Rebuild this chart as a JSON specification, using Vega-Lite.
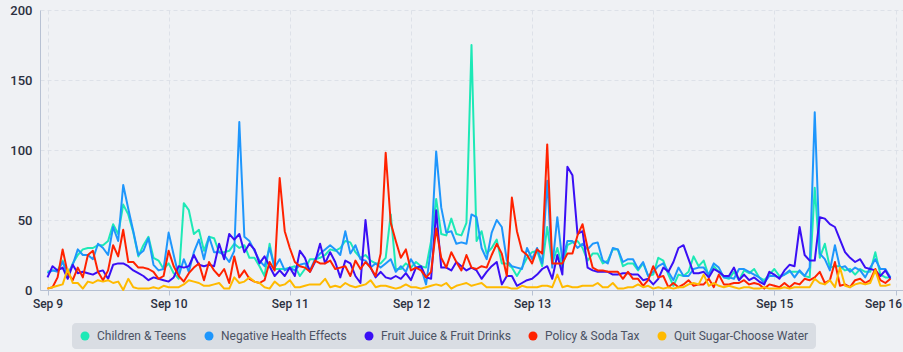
{
"$schema": "https://vega.github.io/schema/vega-lite/v6.json",
"width": 863, "height": 280,
"autosize": {"type": "none"},
"padding": {"left": 40, "top": 10, "right": 0, "bottom": 62},
"background": "#eff1f4",
"config": {"view": {"stroke": null}, "font": "Roboto"},
"datasets": {
"names": [
{"k": "C", "name": "Children & Teens"},
{"k": "N", "name": "Negative Health Effects"},
{"k": "F", "name": "Fruit Juice & Fruit Drinks"},
{"k": "P", "name": "Policy & Soda Tax"},
{"k": "Q", "name": "Quit Sugar-Choose Water"}
],
"hourly": [
{"t":"2015-09-09T00:00","C":13,"N":12,"F":9,"P":1,"Q":1},
{"t":"2015-09-09T01:00","C":14,"N":14,"F":17,"P":2,"Q":2},
{"t":"2015-09-09T02:00","C":14,"N":13,"F":14,"P":9,"Q":3},
{"t":"2015-09-09T03:00","C":21,"N":20,"F":16,"P":29,"Q":4},
{"t":"2015-09-09T04:00","C":10,"N":11,"F":8,"P":12,"Q":15},
{"t":"2015-09-09T05:00","C":19,"N":18,"F":18,"P":7,"Q":5},
{"t":"2015-09-09T06:00","C":25,"N":29,"F":12,"P":16,"Q":5},
{"t":"2015-09-09T07:00","C":29,"N":25,"F":13,"P":9,"Q":1},
{"t":"2015-09-09T08:00","C":30,"N":25,"F":12,"P":25,"Q":6},
{"t":"2015-09-09T09:00","C":30,"N":22,"F":11,"P":28,"Q":5},
{"t":"2015-09-09T10:00","C":32,"N":33,"F":13,"P":13,"Q":7},
{"t":"2015-09-09T11:00","C":32,"N":30,"F":14,"P":7,"Q":6},
{"t":"2015-09-09T12:00","C":35,"N":25,"F":8,"P":14,"Q":7},
{"t":"2015-09-09T13:00","C":47,"N":45,"F":18,"P":32,"Q":5},
{"t":"2015-09-09T14:00","C":40,"N":35,"F":19,"P":24,"Q":6},
{"t":"2015-09-09T15:00","C":61,"N":75,"F":19,"P":43,"Q":0},
{"t":"2015-09-09T16:00","C":54,"N":58,"F":17,"P":20,"Q":8},
{"t":"2015-09-09T17:00","C":41,"N":42,"F":14,"P":20,"Q":2},
{"t":"2015-09-09T18:00","C":24,"N":25,"F":12,"P":16,"Q":1},
{"t":"2015-09-09T19:00","C":32,"N":28,"F":10,"P":16,"Q":1},
{"t":"2015-09-09T20:00","C":38,"N":37,"F":7,"P":15,"Q":1},
{"t":"2015-09-09T21:00","C":23,"N":18,"F":9,"P":13,"Q":2},
{"t":"2015-09-09T22:00","C":21,"N":14,"F":8,"P":8,"Q":1},
{"t":"2015-09-09T23:00","C":15,"N":15,"F":7,"P":10,"Q":3},
{"t":"2015-09-10T00:00","C":19,"N":41,"F":6,"P":28,"Q":2},
{"t":"2015-09-10T01:00","C":12,"N":25,"F":9,"P":17,"Q":2},
{"t":"2015-09-10T02:00","C":8,"N":10,"F":17,"P":10,"Q":2},
{"t":"2015-09-10T03:00","C":62,"N":22,"F":16,"P":6,"Q":4},
{"t":"2015-09-10T04:00","C":57,"N":13,"F":17,"P":12,"Q":7},
{"t":"2015-09-10T05:00","C":40,"N":27,"F":25,"P":16,"Q":6},
{"t":"2015-09-10T06:00","C":43,"N":36,"F":18,"P":19,"Q":5},
{"t":"2015-09-10T07:00","C":28,"N":22,"F":17,"P":7,"Q":3},
{"t":"2015-09-10T08:00","C":38,"N":38,"F":18,"P":20,"Q":3},
{"t":"2015-09-10T09:00","C":37,"N":27,"F":17,"P":14,"Q":4},
{"t":"2015-09-10T10:00","C":27,"N":27,"F":33,"P":10,"Q":5},
{"t":"2015-09-10T11:00","C":27,"N":25,"F":22,"P":15,"Q":1},
{"t":"2015-09-10T12:00","C":28,"N":20,"F":40,"P":5,"Q":1},
{"t":"2015-09-10T13:00","C":33,"N":28,"F":36,"P":24,"Q":9},
{"t":"2015-09-10T14:00","C":30,"N":120,"F":40,"P":9,"Q":5},
{"t":"2015-09-10T15:00","C":32,"N":38,"F":27,"P":14,"Q":6},
{"t":"2015-09-10T16:00","C":23,"N":35,"F":33,"P":8,"Q":9},
{"t":"2015-09-10T17:00","C":23,"N":28,"F":29,"P":6,"Q":6},
{"t":"2015-09-10T18:00","C":17,"N":21,"F":19,"P":5,"Q":5},
{"t":"2015-09-10T19:00","C":10,"N":17,"F":24,"P":7,"Q":2},
{"t":"2015-09-10T20:00","C":33,"N":30,"F":17,"P":20,"Q":1},
{"t":"2015-09-10T21:00","C":15,"N":16,"F":10,"P":14,"Q":6},
{"t":"2015-09-10T22:00","C":15,"N":22,"F":14,"P":80,"Q":3},
{"t":"2015-09-10T23:00","C":15,"N":14,"F":10,"P":42,"Q":4},
{"t":"2015-09-11T00:00","C":16,"N":16,"F":16,"P":30,"Q":7},
{"t":"2015-09-11T01:00","C":17,"N":14,"F":10,"P":20,"Q":2},
{"t":"2015-09-11T02:00","C":10,"N":18,"F":28,"P":17,"Q":2},
{"t":"2015-09-11T03:00","C":15,"N":19,"F":23,"P":16,"Q":3},
{"t":"2015-09-11T04:00","C":22,"N":14,"F":13,"P":13,"Q":4},
{"t":"2015-09-11T05:00","C":22,"N":22,"F":20,"P":21,"Q":4},
{"t":"2015-09-11T06:00","C":23,"N":26,"F":33,"P":19,"Q":4},
{"t":"2015-09-11T07:00","C":25,"N":29,"F":19,"P":19,"Q":8},
{"t":"2015-09-11T08:00","C":29,"N":32,"F":27,"P":21,"Q":2},
{"t":"2015-09-11T09:00","C":28,"N":29,"F":20,"P":15,"Q":3},
{"t":"2015-09-11T10:00","C":30,"N":25,"F":9,"P":16,"Q":2},
{"t":"2015-09-11T11:00","C":35,"N":42,"F":21,"P":17,"Q":5},
{"t":"2015-09-11T12:00","C":34,"N":26,"F":19,"P":10,"Q":3},
{"t":"2015-09-11T13:00","C":27,"N":32,"F":10,"P":21,"Q":2},
{"t":"2015-09-11T14:00","C":23,"N":22,"F":5,"P":15,"Q":3},
{"t":"2015-09-11T15:00","C":25,"N":21,"F":50,"P":20,"Q":4},
{"t":"2015-09-11T16:00","C":21,"N":16,"F":16,"P":16,"Q":7},
{"t":"2015-09-11T17:00","C":19,"N":19,"F":9,"P":10,"Q":2},
{"t":"2015-09-11T18:00","C":19,"N":16,"F":13,"P":26,"Q":3},
{"t":"2015-09-11T19:00","C":23,"N":19,"F":9,"P":98,"Q":3},
{"t":"2015-09-11T20:00","C":54,"N":22,"F":8,"P":48,"Q":2},
{"t":"2015-09-11T21:00","C":15,"N":13,"F":10,"P":35,"Q":1},
{"t":"2015-09-11T22:00","C":15,"N":17,"F":8,"P":23,"Q":2},
{"t":"2015-09-11T23:00","C":19,"N":13,"F":12,"P":29,"Q":4},
{"t":"2015-09-12T00:00","C":16,"N":22,"F":7,"P":14,"Q":2},
{"t":"2015-09-12T01:00","C":20,"N":16,"F":16,"P":16,"Q":2},
{"t":"2015-09-12T02:00","C":17,"N":16,"F":17,"P":14,"Q":1},
{"t":"2015-09-12T03:00","C":16,"N":4,"F":9,"P":9,"Q":2},
{"t":"2015-09-12T04:00","C":35,"N":30,"F":8,"P":13,"Q":3},
{"t":"2015-09-12T05:00","C":65,"N":99,"F":57,"P":44,"Q":4},
{"t":"2015-09-12T06:00","C":40,"N":59,"F":16,"P":23,"Q":3},
{"t":"2015-09-12T07:00","C":39,"N":41,"F":16,"P":16,"Q":5},
{"t":"2015-09-12T08:00","C":51,"N":42,"F":14,"P":27,"Q":1},
{"t":"2015-09-12T09:00","C":40,"N":33,"F":20,"P":20,"Q":3},
{"t":"2015-09-12T10:00","C":39,"N":34,"F":17,"P":14,"Q":4},
{"t":"2015-09-12T11:00","C":48,"N":33,"F":14,"P":25,"Q":5},
{"t":"2015-09-12T12:00","C":175,"N":54,"F":16,"P":16,"Q":3},
{"t":"2015-09-12T13:00","C":35,"N":52,"F":14,"P":15,"Q":4},
{"t":"2015-09-12T14:00","C":42,"N":30,"F":8,"P":17,"Q":5},
{"t":"2015-09-12T15:00","C":26,"N":22,"F":13,"P":16,"Q":2},
{"t":"2015-09-12T16:00","C":30,"N":41,"F":17,"P":25,"Q":2},
{"t":"2015-09-12T17:00","C":36,"N":50,"F":20,"P":33,"Q":2},
{"t":"2015-09-12T18:00","C":19,"N":45,"F":4,"P":26,"Q":2},
{"t":"2015-09-12T19:00","C":19,"N":21,"F":10,"P":10,"Q":2},
{"t":"2015-09-12T20:00","C":16,"N":17,"F":10,"P":66,"Q":1},
{"t":"2015-09-12T21:00","C":10,"N":16,"F":3,"P":42,"Q":1},
{"t":"2015-09-12T22:00","C":16,"N":15,"F":5,"P":28,"Q":3},
{"t":"2015-09-12T23:00","C":23,"N":30,"F":7,"P":25,"Q":2},
{"t":"2015-09-13T00:00","C":27,"N":22,"F":8,"P":19,"Q":2},
{"t":"2015-09-13T01:00","C":28,"N":30,"F":11,"P":29,"Q":2},
{"t":"2015-09-13T02:00","C":17,"N":19,"F":15,"P":26,"Q":3},
{"t":"2015-09-13T03:00","C":45,"N":78,"F":17,"P":104,"Q":3},
{"t":"2015-09-13T04:00","C":19,"N":16,"F":8,"P":19,"Q":2},
{"t":"2015-09-13T05:00","C":30,"N":52,"F":25,"P":19,"Q":11},
{"t":"2015-09-13T06:00","C":16,"N":21,"F":11,"P":19,"Q":2},
{"t":"2015-09-13T07:00","C":32,"N":35,"F":88,"P":26,"Q":3},
{"t":"2015-09-13T08:00","C":34,"N":35,"F":82,"P":26,"Q":2},
{"t":"2015-09-13T09:00","C":35,"N":30,"F":40,"P":39,"Q":2},
{"t":"2015-09-13T10:00","C":30,"N":33,"F":42,"P":47,"Q":3},
{"t":"2015-09-13T11:00","C":21,"N":29,"F":16,"P":30,"Q":3},
{"t":"2015-09-13T12:00","C":26,"N":33,"F":14,"P":16,"Q":3},
{"t":"2015-09-13T13:00","C":26,"N":34,"F":13,"P":14,"Q":5},
{"t":"2015-09-13T14:00","C":19,"N":21,"F":13,"P":14,"Q":2},
{"t":"2015-09-13T15:00","C":21,"N":19,"F":13,"P":13,"Q":2},
{"t":"2015-09-13T16:00","C":29,"N":30,"F":11,"P":13,"Q":5},
{"t":"2015-09-13T17:00","C":29,"N":29,"F":11,"P":13,"Q":1},
{"t":"2015-09-13T18:00","C":17,"N":20,"F":12,"P":8,"Q":1},
{"t":"2015-09-13T19:00","C":19,"N":22,"F":12,"P":13,"Q":2},
{"t":"2015-09-13T20:00","C":19,"N":22,"F":11,"P":8,"Q":2},
{"t":"2015-09-13T21:00","C":14,"N":15,"F":11,"P":8,"Q":4},
{"t":"2015-09-13T22:00","C":19,"N":20,"F":7,"P":3,"Q":2},
{"t":"2015-09-13T23:00","C":10,"N":10,"F":8,"P":7,"Q":3},
{"t":"2015-09-14T00:00","C":11,"N":13,"F":4,"P":17,"Q":1},
{"t":"2015-09-14T01:00","C":23,"N":17,"F":8,"P":9,"Q":2},
{"t":"2015-09-14T02:00","C":21,"N":19,"F":16,"P":10,"Q":1},
{"t":"2015-09-14T03:00","C":11,"N":13,"F":13,"P":2,"Q":2},
{"t":"2015-09-14T04:00","C":3,"N":7,"F":20,"P":5,"Q":1},
{"t":"2015-09-14T05:00","C":11,"N":16,"F":30,"P":2,"Q":2},
{"t":"2015-09-14T06:00","C":10,"N":10,"F":32,"P":4,"Q":2},
{"t":"2015-09-14T07:00","C":13,"N":10,"F":22,"P":7,"Q":4},
{"t":"2015-09-14T08:00","C":24,"N":15,"F":12,"P":3,"Q":5},
{"t":"2015-09-14T09:00","C":17,"N":16,"F":12,"P":4,"Q":4},
{"t":"2015-09-14T10:00","C":21,"N":16,"F":13,"P":4,"Q":11},
{"t":"2015-09-14T11:00","C":10,"N":11,"F":9,"P":8,"Q":3},
{"t":"2015-09-14T12:00","C":17,"N":19,"F":15,"P":2,"Q":5},
{"t":"2015-09-14T13:00","C":13,"N":16,"F":13,"P":11,"Q":3},
{"t":"2015-09-14T14:00","C":9,"N":9,"F":10,"P":4,"Q":2},
{"t":"2015-09-14T15:00","C":8,"N":9,"F":10,"P":4,"Q":3},
{"t":"2015-09-14T16:00","C":13,"N":8,"F":16,"P":5,"Q":2},
{"t":"2015-09-14T17:00","C":7,"N":15,"F":7,"P":5,"Q":1},
{"t":"2015-09-14T18:00","C":14,"N":15,"F":11,"P":7,"Q":2},
{"t":"2015-09-14T19:00","C":12,"N":13,"F":7,"P":4,"Q":2},
{"t":"2015-09-14T20:00","C":15,"N":11,"F":9,"P":5,"Q":1},
{"t":"2015-09-14T21:00","C":9,"N":9,"F":6,"P":4,"Q":1},
{"t":"2015-09-14T22:00","C":7,"N":5,"F":4,"P":1,"Q":2},
{"t":"2015-09-14T23:00","C":11,"N":10,"F":13,"P":4,"Q":1},
{"t":"2015-09-15T00:00","C":15,"N":10,"F":11,"P":3,"Q":1},
{"t":"2015-09-15T01:00","C":10,"N":9,"F":8,"P":2,"Q":1},
{"t":"2015-09-15T02:00","C":11,"N":11,"F":14,"P":5,"Q":2},
{"t":"2015-09-15T03:00","C":13,"N":14,"F":18,"P":2,"Q":1},
{"t":"2015-09-15T04:00","C":13,"N":9,"F":17,"P":5,"Q":2},
{"t":"2015-09-15T05:00","C":13,"N":14,"F":45,"P":4,"Q":2},
{"t":"2015-09-15T06:00","C":10,"N":10,"F":25,"P":8,"Q":2},
{"t":"2015-09-15T07:00","C":9,"N":16,"F":21,"P":7,"Q":2},
{"t":"2015-09-15T08:00","C":73,"N":127,"F":21,"P":9,"Q":8},
{"t":"2015-09-15T09:00","C":23,"N":26,"F":52,"P":13,"Q":5},
{"t":"2015-09-15T10:00","C":33,"N":22,"F":51,"P":5,"Q":4},
{"t":"2015-09-15T11:00","C":16,"N":14,"F":47,"P":7,"Q":7},
{"t":"2015-09-15T12:00","C":17,"N":32,"F":45,"P":20,"Q":2},
{"t":"2015-09-15T13:00","C":17,"N":16,"F":36,"P":3,"Q":16},
{"t":"2015-09-15T14:00","C":14,"N":17,"F":27,"P":4,"Q":3},
{"t":"2015-09-15T15:00","C":15,"N":13,"F":23,"P":2,"Q":2},
{"t":"2015-09-15T16:00","C":11,"N":16,"F":20,"P":7,"Q":4},
{"t":"2015-09-15T17:00","C":15,"N":14,"F":22,"P":8,"Q":5},
{"t":"2015-09-15T18:00","C":13,"N":9,"F":16,"P":5,"Q":4},
{"t":"2015-09-15T19:00","C":13,"N":16,"F":15,"P":7,"Q":5},
{"t":"2015-09-15T20:00","C":27,"N":22,"F":14,"P":15,"Q":14},
{"t":"2015-09-15T21:00","C":11,"N":15,"F":10,"P":7,"Q":3},
{"t":"2015-09-15T22:00","C":9,"N":15,"F":14,"P":5,"Q":3},
{"t":"2015-09-15T23:00","C":9,"N":9,"F":8,"P":8,"Q":4}
]
},
"data": {"name": "hourly"},
"transform": [
{"fold": ["C", "N", "F", "P", "Q"], "as": ["k", "v"]},
{"lookup": "k", "from": {"data": {"name": "names"}, "key": "k", "fields": ["name"]}}
],
"mark": {"type": "line", "strokeWidth": 2, "strokeJoin": "round"},
"encoding": {
"x": {"field": "t", "type": "temporal",
"scale": {"domain": [{"year": 2015, "month": "sep", "date": 9}, {"year": 2015, "month": "sep", "date": 16}], "padding": 7.5, "nice": false},
"axis": {"title": null, "format": "%b %-d", "tickCount": {"interval": "day", "step": 1}, "labelFont": "Roboto", "labelFontSize": 12, "labelFontWeight": 500, "labelColor": "#2b3040", "labelFlush": false, "labelPadding": 3,
"labelAlign": {"condition": {"test": "datum.label == 'Sep 16'", "value": "right"}, "value": "center"},
"labelOffset": {"condition": {"test": "datum.label == 'Sep 16'", "value": 6}, "value": 0},
"domainColor": "#b7c1d3", "tickColor": "#b7c1d3", "tickSize": 5, "gridColor": "#dde1e8", "gridDash": [4, 3]}},
"y": {"field": "v", "type": "quantitative",
"scale": {"domain": [0, 200], "nice": false},
"axis": {"title": null, "values": [0, 50, 100, 150, 200], "ticks": false, "labelPadding": 8, "labelFont": "Roboto", "labelFontSize": 13, "labelFontWeight": 500, "labelColor": "#2b3040", "domainColor": "#b7c1d3", "gridColor": "#dde1e8", "gridDash": [4, 3]}},
"color": {"field": "name", "type": "nominal",
"scale": {"domain": ["Children & Teens", "Negative Health Effects", "Fruit Juice & Fruit Drinks", "Policy & Soda Tax", "Quit Sugar-Choose Water"],
"range": ["#1de9b6", "#1e96fc", "#3a0ff5", "#ff2200", "#ffba00"]},
"legend": {"title": null, "orient": "none", "legendX": 32, "legendY": 313, "direction": "horizontal", "columns": 5, "symbolType": "circle", "symbolSize": 81, "symbolStrokeWidth": 0, "labelFont": "Roboto", "labelFontSize": 12, "labelColor": "#4b5263", "labelOffset": 6, "columnPadding": 16, "padding": 7, "fillColor": "#d9dde3", "cornerRadius": 4,
"encode": {"symbols": {"update": {"fill": {"scale": "color", "field": "value"}, "stroke": {"value": "transparent"}}}}}}
}
}
